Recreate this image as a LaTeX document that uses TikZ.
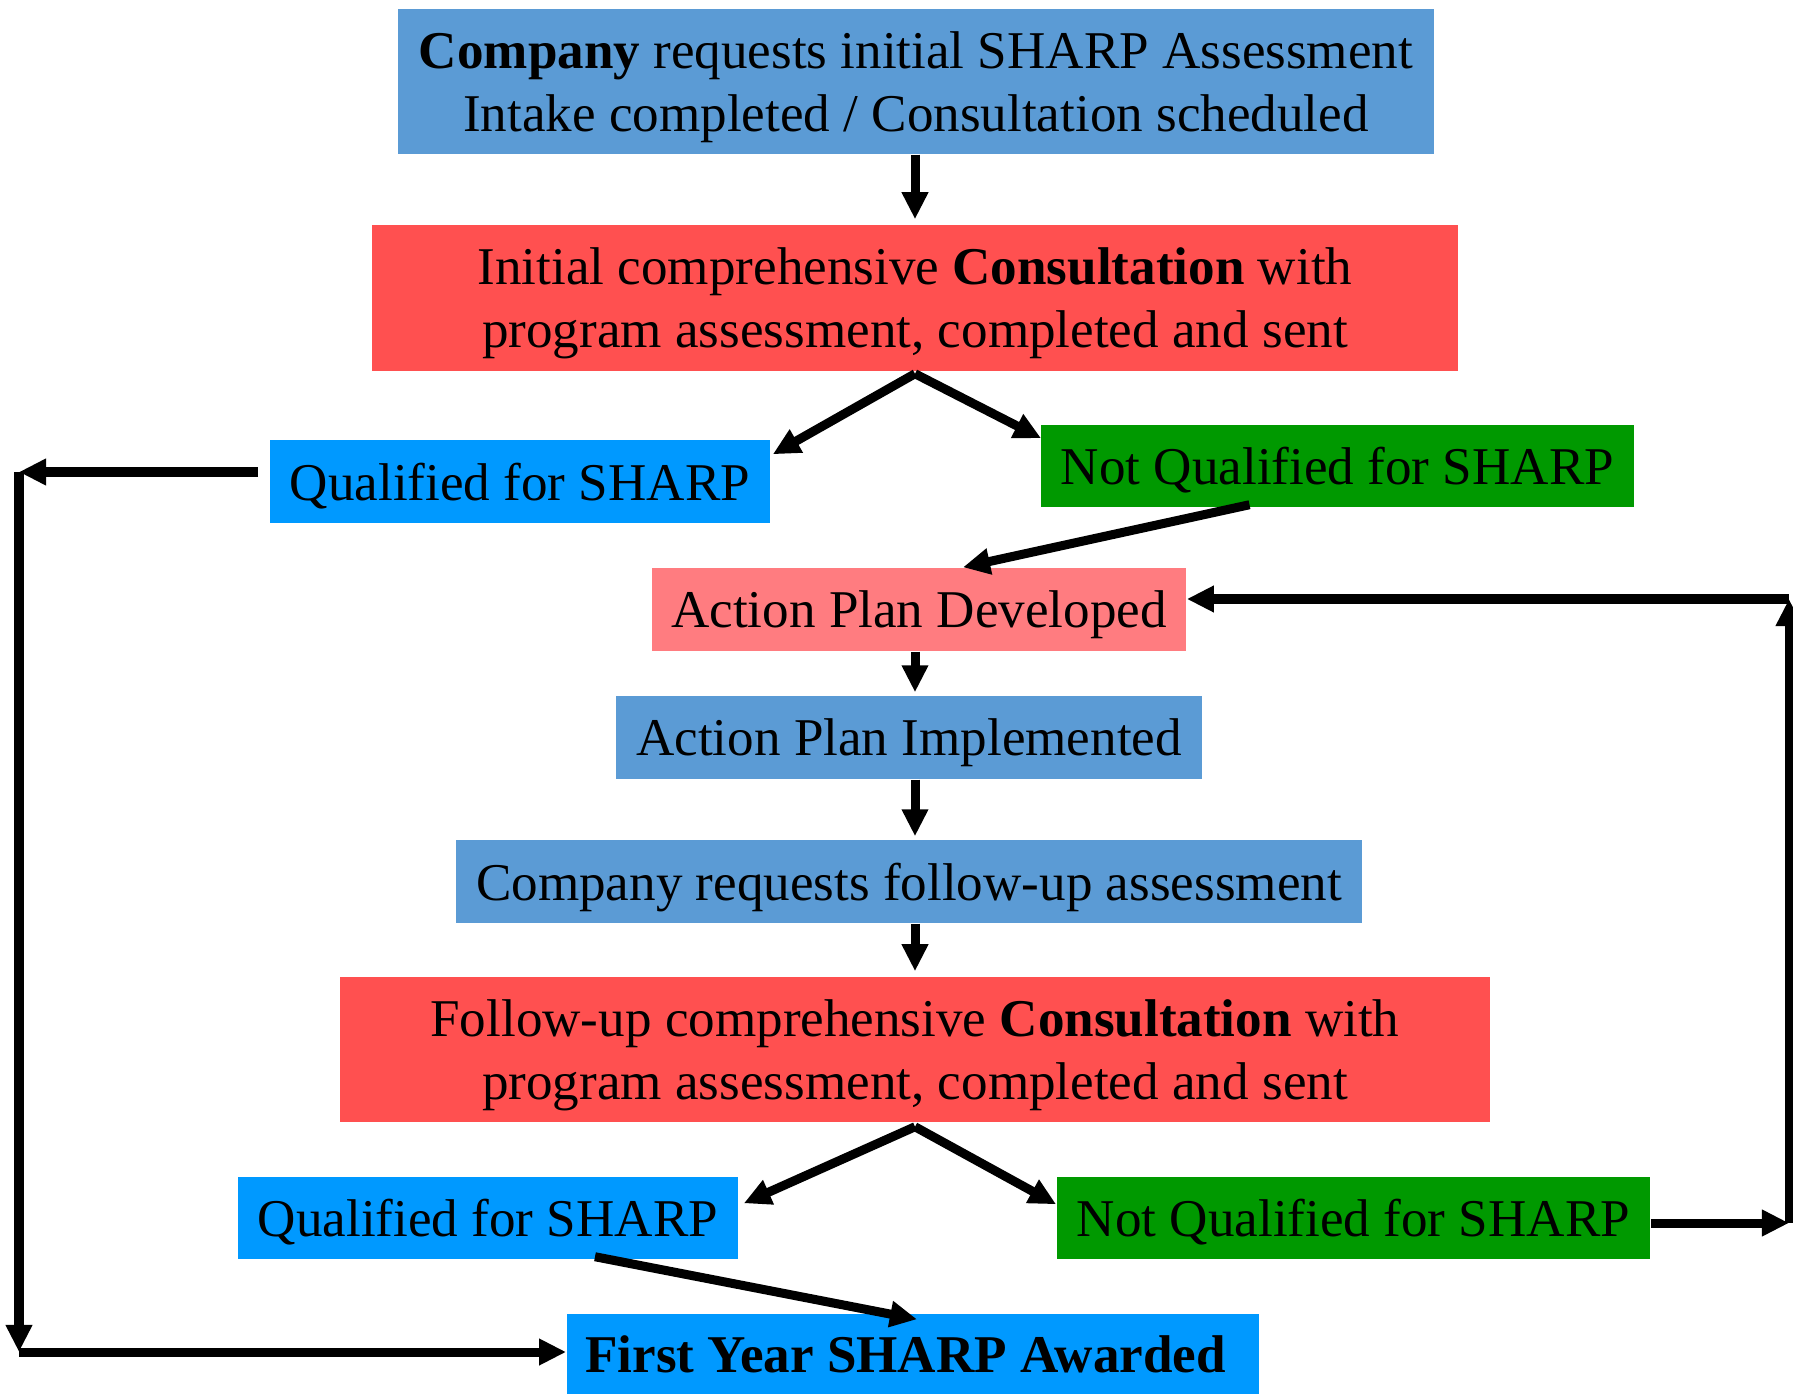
\documentclass[tikz,border=0pt]{standalone}
\usepackage{fontspec}
\setmainfont{Liberation Serif}
\usetikzlibrary{arrows.meta,calc}

\definecolor{steel}{HTML}{5B9BD5}
\definecolor{consred}{HTML}{FF5050}
\definecolor{brightblue}{HTML}{0099FF}
\definecolor{darkgreen}{HTML}{009900}
\definecolor{pink}{HTML}{FF7C80}

\begin{document}
\begin{tikzpicture}[x=0.01cm,y=-0.01cm]

      \useasboundingbox (0,0) rectangle (1793,1394);

      \begin{scope}[every node/.style={inner sep=0pt, align=center, text depth=0pt, font=\fontsize{15.1}{17.9}\selectfont}]
        \node[fill=steel, minimum width=10.36cm, minimum height=1.45cm] (1) at (916,81.5)
          {\textbf{Company} requests initial SHARP Assessment\\Intake completed / Consultation scheduled};
        \node[fill=consred, minimum width=10.86cm, minimum height=1.46cm] (2) at (915,298)
          {Initial comprehensive \textbf{Consultation} with\\program assessment, completed and sent};
        \node[fill=brightblue, minimum width=5cm, minimum height=0.83cm] (3) at (520,481.5) {Qualified for SHARP};
        \node[fill=darkgreen, minimum width=5.93cm, minimum height=0.82cm] (4) at (1337.5,466) {Not Qualified for SHARP};
        \node[fill=pink, minimum width=5.34cm, minimum height=0.83cm] (5) at (919,609.5) {Action Plan Developed};
        \node[fill=steel, minimum width=5.86cm, minimum height=0.83cm] (6) at (909,737.5) {Action Plan Implemented};
        \node[fill=steel, minimum width=9.06cm, minimum height=0.83cm] (7) at (909,881.5) {Company requests follow-up assessment};
        \node[fill=consred, minimum width=11.5cm, minimum height=1.45cm] (8) at (915,1049.5)
          {Follow-up comprehensive \textbf{Consultation} with\\program assessment, completed and sent};
        \node[fill=brightblue, minimum width=5cm, minimum height=0.82cm] (9) at (488,1218) {Qualified for SHARP};
        \node[fill=darkgreen, minimum width=5.93cm, minimum height=0.82cm] (10) at (1353.5,1218) {Not Qualified for SHARP};
        \node[fill=brightblue, minimum width=6.92cm, minimum height=0.8cm] (11) at (913,1354) {\hspace*{-0.15cm}\textbf{First Year SHARP Awarded}};
      \end{scope}

      % corners of the two loops
      \coordinate (lt) at (19,472);
      \coordinate (lb) at (19,1352);
      \coordinate (rb) at (1789,1223);
      \coordinate (rt) at (1789,599);

      \begin{scope}[every edge/.style={draw, line width=0.09cm, -{Triangle[length=0.27cm,width=0.25cm]}}]
        \path (1.south -| 2.south) edge[shorten >=0.05cm] (2.north);
        \path ($(2.south)+(0,2)$) edge ($(3.north east)+(2,15)$);
        \path ($(2.south)+(0,2)$) edge ($(4.north west)+(1,14)$);
        \path ($(4.south)+(-88,-3)$) edge ($(5.north)+(44,0)$);
        \path ($(3.west)+(-11,-9.5)$) edge (lt);
        \path (lt) edge (lb);
        \path (lb) edge (11.west |- lb);
        \path (5.south -| 2.south) edge[shorten >=0.03cm] (6.north -| 2.south);
        \path (6.south -| 2.south) edge[shorten >=0.03cm] (7.north -| 2.south);
        \path (7.south -| 2.south) edge[shorten >=0.05cm] (8.north);
        \path ($(8.south)+(0,4)$) edge ($(9.north east)+(5,27)$);
        \path ($(8.south)+(0,4)$) edge ($(10.north west)+(0,28)$);
        \path ($(9.south)+(107,-3)$) edge ($(11.north)+(4,6)$);
        \path ($(10.east)+(0,5)$) edge (rb);
        \path (rb) edge (rt);
        \path (rt) edge (5.east |- rt);
      \end{scope}

    \end{tikzpicture}
\end{document}
